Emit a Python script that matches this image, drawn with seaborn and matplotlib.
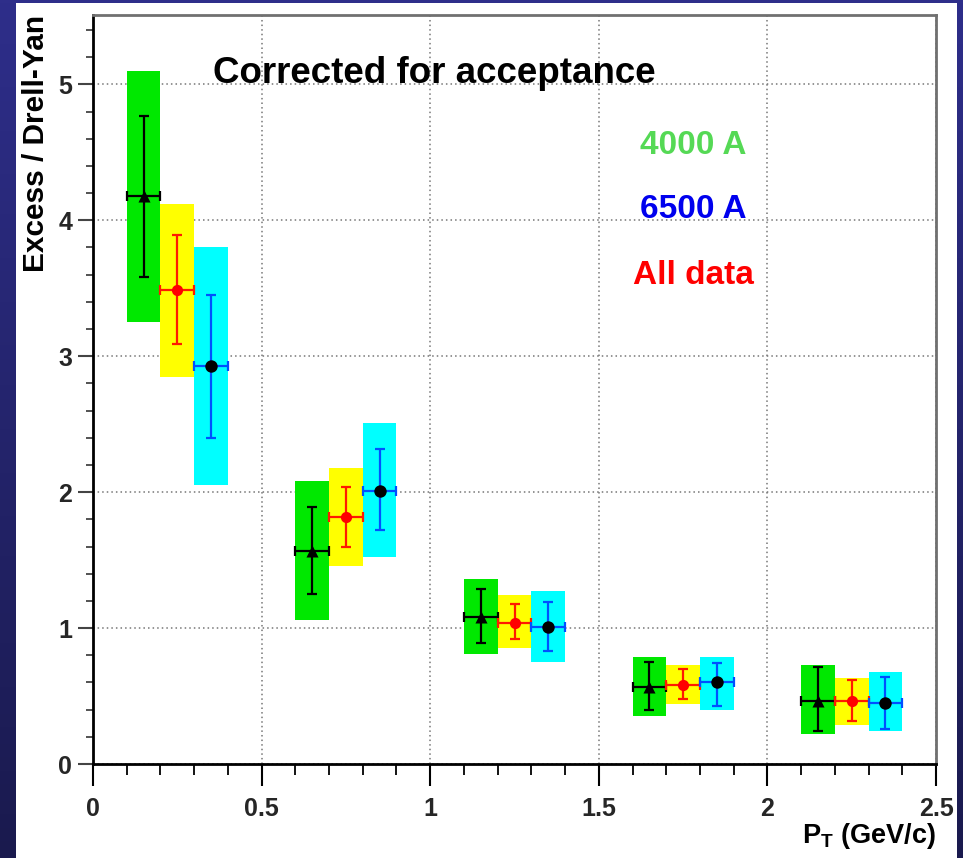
import numpy as np
import pandas as pd
import matplotlib
matplotlib.use("Agg")
import matplotlib.pyplot as plt
import matplotlib.font_manager as fm
from matplotlib.ticker import MultipleLocator, FixedLocator, FixedFormatter
import seaborn as sns

# ---------------- data ----------------
x_4000 = [0.15, 0.65, 1.15, 1.65, 2.15]
y_4000 = [4.18, 1.57, 1.08, 0.57, 0.46]
stat_lo_4000 = [3.58, 1.25, 0.89, 0.40, 0.24]
stat_hi_4000 = [4.77, 1.89, 1.29, 0.75, 0.71]
sys_lo_4000 = [3.25, 1.06, 0.81, 0.35, 0.22]
sys_hi_4000 = [5.10, 2.08, 1.36, 0.79, 0.73]

x_all = [0.25, 0.75, 1.25, 1.75, 2.25]
y_all = [3.49, 1.82, 1.04, 0.58, 0.46]
stat_lo_all = [3.09, 1.60, 0.92, 0.48, 0.32]
stat_hi_all = [3.89, 2.04, 1.18, 0.70, 0.62]
sys_lo_all = [2.85, 1.46, 0.85, 0.44, 0.29]
sys_hi_all = [4.12, 2.18, 1.24, 0.73, 0.63]

x_6500 = [0.35, 0.85, 1.35, 1.85, 2.35]
y_6500 = [2.93, 2.01, 1.01, 0.60, 0.45]
stat_lo_6500 = [2.40, 1.72, 0.83, 0.43, 0.26]
stat_hi_6500 = [3.45, 2.32, 1.19, 0.74, 0.64]
sys_lo_6500 = [2.05, 1.52, 0.75, 0.40, 0.24]
sys_hi_6500 = [3.80, 2.51, 1.27, 0.79, 0.68]

bin_width = 0.1
xtick_values = [0, 0.5, 1, 1.5, 2, 2.5]
xtick_labels = ["0", "0.5", "1", "1.5", "2", "2.5"]
ytick_values = [0, 1, 2, 3, 4, 5]
ytick_labels = ["0", "1", "2", "3", "4", "5"]

# ---------------- style ----------------
sns.set_theme(style="white")
names = {f.name for f in fm.fontManager.ttflist}
has_narrow = "Liberation Sans Narrow" in names
NARROW = "Liberation Sans Narrow" if has_narrow else "Liberation Sans"
plt.rcParams["font.family"] = ["Liberation Sans", "DejaVu Sans"]
plt.rcParams["mathtext.fontset"] = "custom"
plt.rcParams["mathtext.bf"] = NARROW + ":bold"
plt.rcParams["mathtext.rm"] = NARROW + ":bold"

tick_fs = 21.5 if has_narrow else 18
legend_fs = 27 if has_narrow else 24
xlabel_fs = 23 if has_narrow else 19.5

W, H = 963, 858
fig = plt.figure(figsize=(W / 100, H / 100), dpi=100)

# background gradient border + white panel
bg = fig.add_axes([0, 0, 1, 1], zorder=-10)
grad = np.linspace(0, 1, 256).reshape(-1, 1)
top_c = np.array([46, 46, 138]) / 255
bot_c = np.array([26, 26, 78]) / 255
img = top_c[None, None, :] * (1 - grad[:, :, None]) + bot_c[None, None, :] * grad[:, :, None]
bg.imshow(img, aspect="auto", extent=[0, 1, 0, 1], origin="upper")
bg.add_patch(plt.Rectangle((16 / W, 0), (957 - 16) / W, (H - 3) / H, color="white", lw=0))
bg.set_xlim(0, 1)
bg.set_ylim(0, 1)
bg.axis("off")

ax = fig.add_axes([93 / W, (H - 764) / H, (936 - 93) / W, (764 - 15) / H])
ax.set_facecolor("white")
ax.set_axisbelow(True)

series = [
    (x_4000, y_4000, stat_lo_4000, stat_hi_4000, sys_lo_4000, sys_hi_4000,
     "#00e800", "black", "4000 A"),
    (x_all, y_all, stat_lo_all, stat_hi_all, sys_lo_all, sys_hi_all,
     "#ffff00", "#ff1a00", "All data"),
    (x_6500, y_6500, stat_lo_6500, stat_hi_6500, sys_lo_6500, sys_hi_6500,
     "#00ffff", "#0050ff", "6500 A"),
]

rows = []
for xs, ys, slo, shi, ylo, yhi, box_c, err_c, name in series:
    xs = np.array(xs); ys = np.array(ys)
    slo = np.array(slo); shi = np.array(shi)
    ylo = np.array(ylo); yhi = np.array(yhi)
    ax.bar(xs, yhi - ylo, bottom=ylo, width=bin_width, color=box_c, lw=0, zorder=2)
    ax.errorbar(xs, ys, yerr=[ys - slo, shi - ys], xerr=bin_width / 2, fmt="none",
                ecolor=err_c, elinewidth=1.6, capsize=3.5, capthick=1.6, zorder=3)
    for xv, yv in zip(xs, ys):
        rows.append({"pt": xv, "ratio": yv, "series": name})

df = pd.DataFrame(rows)
marker_map = {"4000 A": "^", "All data": "o", "6500 A": "o"}
color_map = {"4000 A": "black", "All data": "#ff0000", "6500 A": "black"}
sizes_map = {"4000 A": 75, "All data": 65, "6500 A": 80}
for name in ["4000 A", "All data", "6500 A"]:
    sub = df[df["series"] == name]
    sns.scatterplot(data=sub, x="pt", y="ratio", ax=ax, marker=marker_map[name],
                    color=color_map[name], s=sizes_map[name], linewidth=0,
                    zorder=4, legend=False)

ax.set_xlim(0, 2.5)
ax.set_ylim(0, 5.51)
ax.set_xlabel("")
ax.set_ylabel("")

ax.xaxis.set_major_locator(FixedLocator(xtick_values))
ax.xaxis.set_major_formatter(FixedFormatter(xtick_labels))
ax.xaxis.set_minor_locator(MultipleLocator(0.1))
ax.yaxis.set_major_locator(FixedLocator(ytick_values))
ax.yaxis.set_major_formatter(FixedFormatter(ytick_labels))
ax.yaxis.set_minor_locator(MultipleLocator(0.2))

ax.tick_params(axis="x", which="major", direction="out", length=16, width=1.5,
               color="black", pad=8, labelsize=tick_fs, bottom=True)
ax.tick_params(axis="x", which="minor", direction="out", length=8, width=1.3,
               color="black", bottom=True)
ax.tick_params(axis="y", which="major", direction="out", length=11, width=1.5,
               color="#444444", pad=4, labelsize=tick_fs, left=True)
ax.tick_params(axis="y", which="minor", direction="out", length=5, width=1.3,
               color="#444444", left=True)
for lab in ax.get_xticklabels() + ax.get_yticklabels():
    lab.set_fontfamily([NARROW, "DejaVu Sans"])
    lab.set_fontweight("bold")

ax.grid(True, which="major", linestyle=(0, (1, 2)), color="#777777", lw=1.1)

for side in ["left", "bottom"]:
    ax.spines[side].set_color("black")
    ax.spines[side].set_linewidth(2)
for side in ["top", "right"]:
    ax.spines[side].set_color("#707070")
    ax.spines[side].set_linewidth(2)

# texts
ax.text(0.356, 5.01, "Corrected for acceptance", fontsize=26.5, fontweight="bold",
        color="black", family=["Liberation Sans", "DejaVu Sans"], ha="left",
        va="baseline", zorder=5)
ax.text(1.622, 4.49, "4000 A", fontsize=legend_fs, fontweight="bold", color="#55d955",
        family=[NARROW, "DejaVu Sans"], ha="left", va="baseline", zorder=5)
ax.text(1.622, 4.02, "6500 A", fontsize=legend_fs, fontweight="bold", color="#0000ee",
        family=[NARROW, "DejaVu Sans"], ha="left", va="baseline", zorder=5)
ax.text(1.60, 3.53, "All data", fontsize=legend_fs, fontweight="bold", color="#ff0000",
        family=[NARROW, "DejaVu Sans"], ha="left", va="baseline", zorder=5)

ax.text(-0.068, 1.0, "Excess / Drell-Yan", transform=ax.transAxes, rotation=90,
        fontsize=21.5, fontweight="bold", color="black",
        family=["Liberation Sans", "DejaVu Sans"], ha="center", va="top")
ax.text(1.0, -0.105, r"$\mathbf{P_T}$ (GeV/c)", transform=ax.transAxes,
        fontsize=xlabel_fs, fontweight="bold", color="black",
        family=[NARROW, "DejaVu Sans"], ha="right", va="baseline")

fig.savefig("out.png", dpi=100)
